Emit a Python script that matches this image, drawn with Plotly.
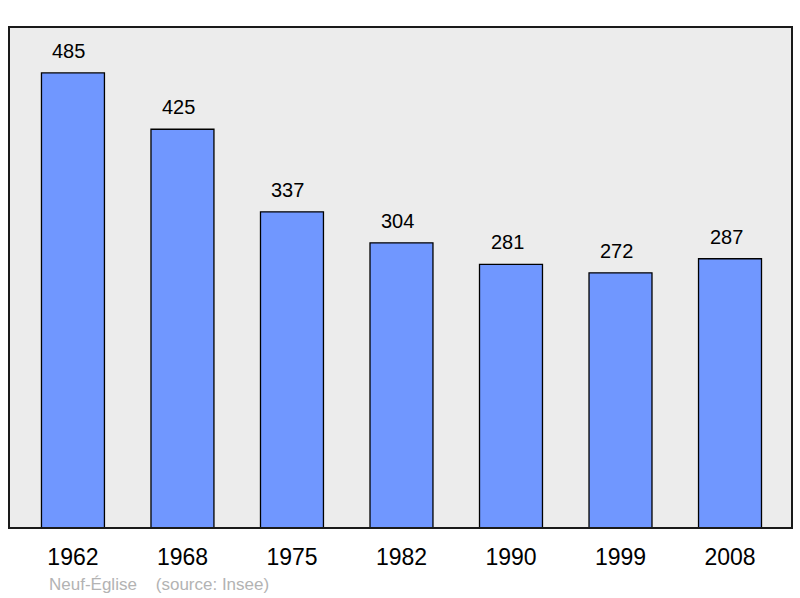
import plotly.graph_objects as go

years = ["1962", "1968", "1975", "1982", "1990", "1999", "2008"]
population = [485, 425, 337, 304, 281, 272, 287]

FONT = "Liberation Sans, Arial, sans-serif"

fig = go.Figure()
fig.add_trace(go.Bar(
    x=list(range(len(years))), y=population, width=0.575,
    marker=dict(color="#7097ff", line=dict(color="#000000", width=1.3)),
    hoverinfo="skip",
))
for i, v in enumerate(population):
    fig.add_annotation(x=i, y=v, text=str(v), showarrow=False, yanchor="bottom",
                       yshift=9, xshift=-4, font=dict(size=20, color="#000000", family=FONT))

fig.add_annotation(xref="paper", yref="paper", x=(47-9)/783, y=-(584-528)/501, xanchor="left", yanchor="middle",
                   text="Neuf-Église&nbsp;&nbsp;&nbsp;&nbsp;(source: Insee)", showarrow=False,
                   font=dict(size=17, color="#b3b3b3", family=FONT))

fig.add_shape(type="rect", xref="paper", yref="paper", x0=0, x1=1, y0=0, y1=1,
              line=dict(color="#1a1a1a", width=2), layer="above")

fig.update_layout(
    width=800, height=598,
    margin=dict(l=9, r=8, t=27, b=70),
    paper_bgcolor="#ffffff", plot_bgcolor="#ececec",
    showlegend=False,
    xaxis=dict(range=[-0.584, 6.566], tickmode="array", tickvals=list(range(len(years))), ticktext=years,
               showgrid=False, zeroline=False, ticks="", ticklabelstandoff=13,
               tickfont=dict(size=23, color="#000000", family=FONT), fixedrange=True),
    yaxis=dict(range=[0, 534], showgrid=False, zeroline=False, showticklabels=False, ticks="", fixedrange=True),
    font=dict(family=FONT),
)

fig.write_html("out.html", config={"displayModeBar": False},
               post_script="document.body.style.margin='0';document.body.style.overflow='hidden';")
